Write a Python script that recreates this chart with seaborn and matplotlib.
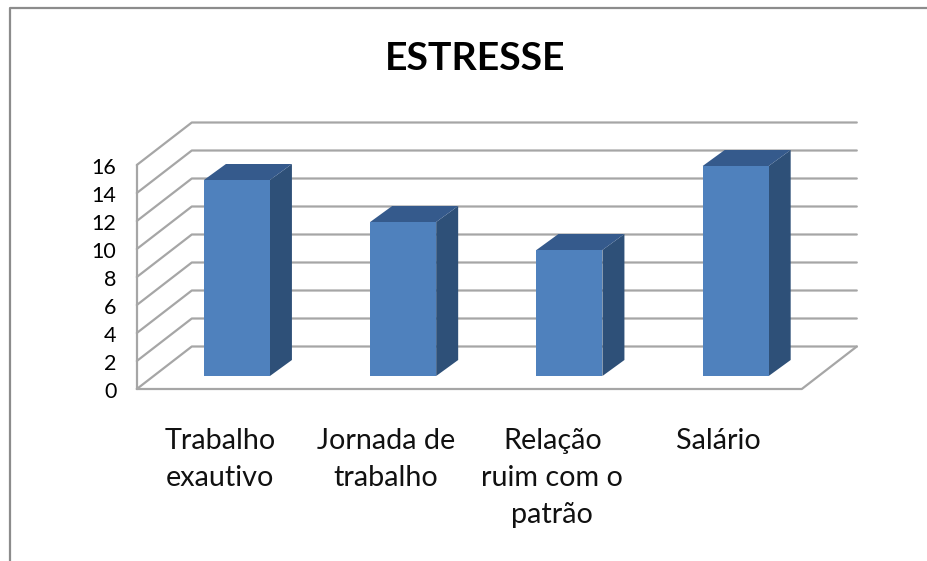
import pandas as pd
import matplotlib
matplotlib.use("Agg")
import matplotlib.pyplot as plt
from matplotlib.lines import Line2D
from matplotlib.patches import Polygon
import seaborn as sns

categorias = ["Trabalho\nexautivo", "Jornada de\ntrabalho", "Relação\nruim com o\npatrão", "Salário"]
valores = [14, 11, 9, 15]
ticks = [0, 2, 4, 6, 8, 10, 12, 14, 16]
titulo = "ESTRESSE"

FRONT_COLOR = "#4F81BD"
SIDE_COLOR = "#2E5078"
CAP_COLOR = "#355A8C"
GRID_COLOR = "#A6A6A6"

W, H = 928, 561
# pixels per data unit, used for the fake 3d depth
PX_X = 166.25
PX_Y = 14.0
FRONT = (-17 / PX_X, -13 / PX_Y)
BACK = (38 / PX_X, 29.5 / PX_Y)
DEPTH = (22 / PX_X, 16 / PX_Y)

sns.set_theme(style="white")
plt.rcParams["font.family"] = ["Lato", "DejaVu Sans"]

fig = plt.figure(figsize=(W / 100, H / 100), dpi=100, facecolor="white")
ax = fig.add_axes([153.8 / W, (H - 376) / H, 665 / W, 224 / H])

df = pd.DataFrame({"cat": categorias, "val": valores})
sns.barplot(data=df, x="cat", y="val", color=FRONT_COLOR, saturation=1, width=0.397,
            linewidth=0, ax=ax, zorder=5)
ax.set_xlim(-0.5, 3.5)
ax.set_ylim(0, 16)
ax.axis("off")

x0, x1 = -0.5, 3.5
gk = dict(color=GRID_COLOR, lw=1.6, clip_on=False, zorder=1)

# walls and floor
for t in ticks:
    ax.plot([x0 + FRONT[0], x0 + BACK[0], x1 + BACK[0]],
            [t + FRONT[1], t + BACK[1], t + BACK[1]], **gk)
ax.plot([x0 + FRONT[0], x0 + FRONT[0]], [ticks[0] + FRONT[1], ticks[-1] + FRONT[1]], **gk)
ax.plot([x0 + FRONT[0], x1 + FRONT[0], x1 + BACK[0]],
        [FRONT[1], FRONT[1], BACK[1]], **gk)

# side and top faces of each bar
for bar in ax.patches:
    left = bar.get_x()
    right = left + bar.get_width()
    top = bar.get_height()
    ax.add_patch(Polygon([(right, 0), (right + DEPTH[0], DEPTH[1]),
                          (right + DEPTH[0], top + DEPTH[1]), (right, top)],
                         facecolor=SIDE_COLOR, edgecolor="none", clip_on=False, zorder=4))
    ax.add_patch(Polygon([(left, top), (left + DEPTH[0], top + DEPTH[1]),
                          (right + DEPTH[0], top + DEPTH[1]), (right, top)],
                         facecolor=CAP_COLOR, edgecolor="none", clip_on=False, zorder=4))

for t in ticks:
    ax.text(x0 + (117 - 154.5) / PX_X, t + FRONT[1] - 3.5 / PX_Y, str(t), ha="right", va="center",
            fontsize=15.5, color="black", clip_on=False)

for i, c in enumerate(categorias):
    ax.text(i + FRONT[0], (376 - 428) / PX_Y, c, ha="center", va="top",
            fontsize=20.7, color="#111111", linespacing=1.53, clip_on=False)

fig.text(475 / W, 1 - 58 / H, titulo, ha="center", va="center", fontsize=28.3, fontweight="bold", color="black")

fig.add_artist(Line2D([10 / W, 10 / W, 1], [0, 1 - 8 / H, 1 - 8 / H], color="#8C8C8C", lw=1.6))

fig.savefig("out.png", dpi=100, facecolor="white")
